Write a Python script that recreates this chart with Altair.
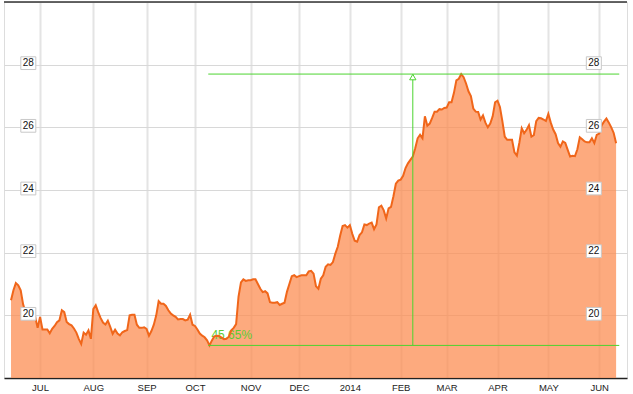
import altair as alt
import pandas as pd

# Daily closing prices, one per trading day (mid-June 2013 to mid-June 2014)
prices = [
    20.48, 20.8, 21.03, 20.96, 20.8, 20.35, 20.1, 19.95, 19.9, 19.9,
    19.95, 19.6, 19.95, 19.55, 19.55, 19.55, 19.43, 19.57, 19.66, 19.78,
    19.84, 20.16, 20.1, 19.79, 19.72, 19.68, 19.58, 19.45, 19.25, 19.09,
    19.45, 19.38, 19.52, 19.25, 20.2, 20.32, 20.1, 19.92, 19.77, 19.71,
    19.83, 19.63, 19.41, 19.54, 19.42, 19.36, 19.46, 19.5, 19.53, 20.0,
    20.02, 20.02, 19.7, 19.6, 19.6, 19.62, 19.57, 19.35, 19.5, 19.7,
    20.0, 20.45, 20.37, 20.37, 20.3, 20.16, 20.06, 20.0, 19.95, 19.87,
    19.88, 19.88, 19.84, 19.86, 20.02, 19.7, 19.66, 19.55, 19.42, 19.35,
    19.3, 19.2, 19.04, 19.2, 19.33, 19.35, 19.34, 19.29, 19.24, 19.25,
    19.32, 19.52, 19.6, 19.72, 20.6, 21.05, 21.15, 21.1, 21.12, 21.12,
    21.15, 21.15, 21.0, 20.85, 20.74, 20.77, 20.7, 20.42, 20.4, 20.4,
    20.42, 20.33, 20.37, 20.4, 20.75, 21.0, 21.25, 21.28, 21.22, 21.25,
    21.28, 21.28, 21.28, 21.4, 21.42, 21.33, 20.93, 20.85, 21.17, 21.28,
    21.55, 21.63, 21.61, 21.7, 21.97, 22.19, 22.55, 22.85, 22.88, 22.8,
    22.88, 22.6, 22.38, 22.35, 22.56, 22.65, 22.9, 22.88, 22.93, 22.96,
    22.75, 22.9, 23.45, 23.5, 23.35, 23.09, 23.41, 23.46, 23.8, 24.2,
    24.3, 24.33, 24.45, 24.7, 24.85, 24.96, 25.07, 25.33, 25.65, 25.76,
    25.65, 26.35, 26.05, 26.12, 26.3, 26.5, 26.5, 26.58, 26.57, 26.62,
    26.63, 26.8, 26.8, 27.1, 27.5, 27.55, 27.7, 27.6, 27.4, 27.15,
    27.0, 26.6, 26.5, 26.49, 26.25, 26.38, 26.15, 26.0, 26.12, 26.35,
    26.8, 26.85, 26.65, 26.2, 25.7, 25.6, 25.6, 25.6, 25.2, 25.1,
    25.5, 25.97, 25.81, 25.92, 26.07, 25.7, 25.75, 26.2, 26.3, 26.29,
    26.25, 26.2, 26.43, 26.15, 25.93, 25.78, 25.5, 25.38, 25.55, 25.5,
    25.28, 25.07, 25.09, 25.08, 25.3, 25.68, 25.62, 25.55, 25.52, 25.52,
    25.65, 25.5, 25.76, 25.8, 26.06, 26.18, 26.28, 26.15, 26.0, 25.82,
    25.49,
]

# First trading day of each month (trading-day index) and its label
month_days = [12, 34, 56, 76, 99, 119, 140, 161, 180, 201, 222, 243]
month_labels = ["JUL", "AUG", "SEP", "OCT", "NOV", "DEC", "2014",
                "FEB", "MAR", "APR", "MAY", "JUN"]

y_ticks = [20, 22, 24, 26, 28]
change_text = "45.65%"
measure_day = 166

df = pd.DataFrame({"day": list(range(len(prices))), "price": prices})

vmin = min(prices)
vmax = max(prices)
imin = prices.index(vmin)

X_DOMAIN = [-2.9, 254.5]
Y_DOMAIN = [18, 30]
line_end = 251.3

xscale = alt.Scale(domain=X_DOMAIN, nice=False, zero=False)
yscale = alt.Scale(domain=Y_DOMAIN, nice=False, zero=False)

labels_js = "[" + ",".join("'%s'" % s for s in month_labels) + "]"
days_js = "[" + ",".join(str(d) for d in month_days) + "]"

xaxis = alt.Axis(
    values=month_days, title=None,
    labelExpr=f"{labels_js}[indexof({days_js}, datum.value)]",
    ticks=False, tickSize=0, labelPadding=4,
    domainColor="#222222", domainWidth=1.5,
    grid=True, gridColor="#e4e4e4", gridWidth=2,
    labelFont="Liberation Sans", labelFontSize=9.5, labelColor="#222222",
)
yaxis = alt.Axis(
    values=y_ticks, title=None, labels=False, ticks=False, domain=False,
    grid=True, gridColor="#d8d8d8", gridWidth=1,
)

base = alt.Chart(df)

area = base.mark_area(color="#fc8e53", opacity=0.75).encode(
    x=alt.X("day:Q", scale=xscale, axis=xaxis),
    y=alt.Y("price:Q", scale=yscale, axis=yaxis),
    y2=alt.Y2Datum(Y_DOMAIN[0]),
)
line = base.mark_line(color="#f0661a", strokeWidth=2).encode(
    x=alt.X("day:Q", scale=xscale),
    y=alt.Y("price:Q", scale=yscale),
)

top_border = alt.Chart(pd.DataFrame({"v": [Y_DOMAIN[1]]})).mark_rule(
    color="#333333", strokeWidth=1.5
).encode(y=alt.Y("v:Q", scale=yscale))

green = "#4cd430"
hl = pd.DataFrame({"x": [imin - 0.5, imin - 0.5], "x2": [line_end, line_end],
                   "y": [vmax, vmin]})
hrules = alt.Chart(hl).mark_rule(color=green, strokeWidth=1).encode(
    x=alt.X("x:Q", scale=xscale), x2="x2:Q", y=alt.Y("y:Q", scale=yscale)
)
vl = pd.DataFrame({"x": [measure_day], "y": [vmin], "y2": [vmax]})
vrule = alt.Chart(vl).mark_rule(color=green, strokeWidth=1).encode(
    x=alt.X("x:Q", scale=xscale), y=alt.Y("y:Q", scale=yscale), y2="y2:Q"
)
arrow = alt.Chart(pd.DataFrame({"x": [measure_day], "y": [vmax]})).mark_point(
    shape="triangle-up", size=40, filled=True, fill="white", stroke=green,
    strokeWidth=1, opacity=1, yOffset=3
).encode(x=alt.X("x:Q", scale=xscale), y=alt.Y("y:Q", scale=yscale))
pct = alt.Chart(pd.DataFrame({"x": [imin + 0.8], "y": [vmin], "t": [change_text]})).mark_text(
    align="left", baseline="middle", dy=-10, color="#5ccc33",
    font="Liberation Sans", fontSize=12
).encode(x=alt.X("x:Q", scale=xscale), y=alt.Y("y:Q", scale=yscale), text="t:N")

LEFT_LABEL_DAY = 7.15
RIGHT_LABEL_DAY = 240.8
lab = pd.DataFrame({
    "x": [LEFT_LABEL_DAY] * len(y_ticks) + [RIGHT_LABEL_DAY] * len(y_ticks),
    "y": y_ticks + y_ticks,
    "t": [str(v) for v in y_ticks] * 2,
})
boxes = alt.Chart(lab).mark_point(
    shape="M-1,-0.85L1,-0.85L1,0.85L-1,0.85Z", size=225, filled=True,
    fill="white", stroke="#c8c8c8", strokeWidth=1, opacity=1, yOffset=-1.5
).encode(x=alt.X("x:Q", scale=xscale), y=alt.Y("y:Q", scale=yscale))
texts = alt.Chart(lab).mark_text(
    align="center", baseline="middle", dy=-1.5, color="#111111",
    font="Liberation Sans", fontSize=10
).encode(x=alt.X("x:Q", scale=xscale), y=alt.Y("y:Q", scale=yscale), text="t:N")

chart = alt.layer(
    area, pct, line, top_border, hrules, vrule, arrow, boxes, texts
).properties(
    width=623, height=376,
    autosize=alt.AutoSizeParams(type="none"),
    padding={"left": 4, "top": 2, "right": 6, "bottom": 16},
).configure_view(stroke=None).configure(background="white")

chart.save("out.html", embed_options={"renderer": "svg", "actions": False})
